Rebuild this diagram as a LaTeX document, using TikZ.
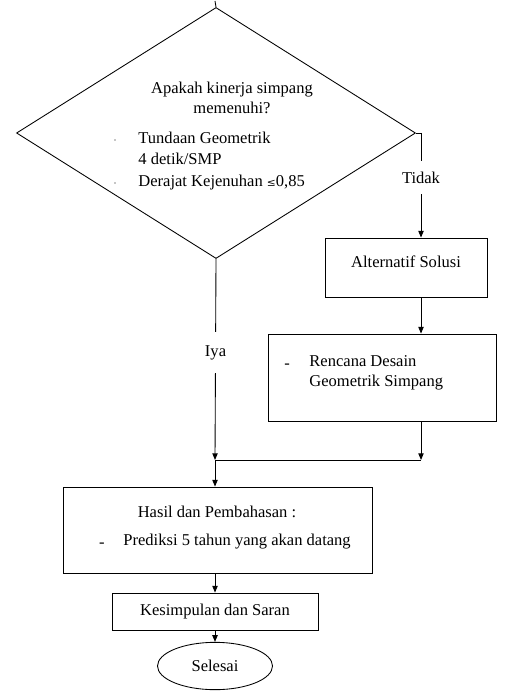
\documentclass[tikz,border=0pt]{standalone}
\usepackage{fontspec}
\setmainfont{Liberation Serif}
\usetikzlibrary{arrows.meta}
\usetikzlibrary{shapes.geometric}
\usetikzlibrary{calc}

\begin{document}
\begin{tikzpicture}[x=0.75pt,y=-0.75pt,
    font=\fontsize{12.4}{15}\selectfont, line width=0.65pt,
    kotak/.style={draw, rectangle, inner sep=0pt},
    teks/.style={inner sep=0pt},
    lbl/.style={fill=white, inner xsep=2pt, inner ysep=8pt},
    panah/.style={-{Triangle[length=5pt,width=4pt]}},
    titik/.style={circle, fill=black!45, inner sep=0pt, minimum size=1.3pt}]
  \useasboundingbox (0,0) rectangle (504,691);

  \node[draw, diamond, inner sep=0pt, minimum width=299.25pt, minimum height=188.25pt] (cek) at (216,133) {};
  \node[teks, align=center] (tanya) at (232,98) {Apakah kinerja simpang\\memenuhi?};
  \node[teks, anchor=west, align=left, font=\fontsize{12.4}{16}\selectfont] (syarat) at (138,161)
    {Tundaan Geometrik\\4 detik/SMP\\Derajat Kejenuhan \fontspec{DejaVu Serif}\footnotesize≤\normalfont\fontsize{12.4}{16}\selectfont0,85};
  \node[titik] (b1) at (115,140) {};
  \node[titik] (b2) at (115,183) {};

  \node[kotak, minimum width=121.5pt, minimum height=44.25pt] (alt) at (406,267.5) {};
  \node[teks] (alttx) at (406,262) {Alternatif Solusi};

  \node[kotak, minimum width=171pt, minimum height=65.25pt] (desain) at (382,377.5) {};
  \node[teks] (d1) at (287,366) {-};
  \node[teks, anchor=west, align=left] (desaintx) at (309,373) {Rencana Desain\\Geometrik Simpang};

  \node[kotak, minimum width=231.75pt, minimum height=64.5pt] (hasil) at (217.5,530) {};
  \node[teks] (hasiltx) at (217,512) {Hasil dan Pembahasan :};
  \node[teks] (d2) at (102,545) {-};
  \node[teks, anchor=west] (prediksi) at (123,542) {Prediksi 5 tahun yang akan datang};

  \node[kotak, minimum width=154.5pt, minimum height=27.75pt] (simpul) at (215,611.5) {Kesimpulan dan Saran};
  \node[draw, ellipse, inner sep=0pt, minimum width=86.25pt, minimum height=35.5pt] (selesai) at (215,666) {Selesai};

  \coordinate (atas) at (215,1);
  \coordinate (kanan) at (421,133);
  \coordinate (gabung) at (215,460);
  \coordinate (gabungr) at (421,460);

  \path (atas) edge (cek.north);
  \path (cek.east) edge (kanan);
  \path[panah] (kanan) edge node[lbl, pos=.43] {Tidak} (kanan |- alt.north);
  \path[panah] (kanan |- alt.south) edge (kanan |- desain.north);
  \path[panah] (kanan |- desain.south) edge (gabungr);
  \path[panah] (cek.south) edge node[lbl, pos=.465, inner ysep=10pt] {Iya} (gabung);
  \path (gabung) edge (gabungr);
  \path[panah] (gabung) edge (gabung |- hasil.north);
  \path[panah] (gabung |- hasil.south) edge (simpul.north);
  \path[panah] (simpul.south) edge (selesai.north);
\end{tikzpicture}
\end{document}
